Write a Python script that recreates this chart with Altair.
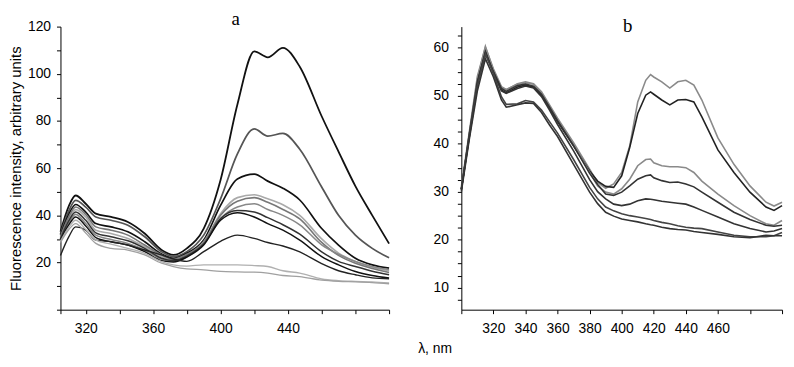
import altair as alt
import pandas as pd

# ---------------- Panel a ----------------
A_NM = [305, 310, 314, 320, 326, 335, 345, 355, 365, 372, 380, 390, 400, 410,
        420, 428, 437, 447, 460, 470, 480, 490, 500]
A1 = [33, 44, 48.4, 44.9, 40.7, 39.3, 37.2, 32.3, 25.3, 23.2, 26, 34.4, 55, 87,
      109.5, 107, 111, 103, 82, 67, 52.4, 40, 28]
A2 = [32, 42, 46.3, 43.5, 39.3, 37.9, 35.8, 30.9, 24.6, 22.5, 24.6, 31.6, 47, 66,
      76.6, 73.6, 74.7, 68, 52, 40, 31.6, 26, 22]
A3 = [31.5, 40.5, 44.6, 41.4, 36.5, 35.1, 33, 28.8, 23.6, 21.8, 23.9, 29.5, 44.2, 55.4,
      57.5, 54.5, 51.5, 46.5, 34.4, 27.4, 21.8, 19, 17.6]
A4 = [30.5, 38.5, 42.4, 39.3, 33.7, 32.3, 30.2, 26.7, 22.5, 21, 23, 28.8, 40.7, 47.5,
      48.7, 47, 44.5, 40, 30, 24, 20.4, 18, 16.5]
A5 = [31, 39.5, 43.5, 40.4, 35.1, 33.7, 31.6, 27.4, 23.2, 21.4, 23.5, 28.5, 40, 46,
      47.5, 45.5, 42.5, 38.5, 28.5, 23, 19.7, 17.5, 15.8]
A6 = [30, 37, 40.4, 36.5, 31.6, 29.8, 28.1, 25.3, 21.4, 20.5, 22.5, 28, 38.6, 43.5,
      44.9, 42.5, 40, 36, 27.5, 23.5, 20.4, 18.3, 17]
A7 = [30, 37.8, 41.4, 37.9, 32.6, 30.9, 29.2, 26, 21.8, 20.8, 22.8, 27.8, 38.6, 42,
      41.4, 39, 36, 32, 24.5, 20.5, 18.3, 16.3, 14.8]
A8 = [29.5, 36, 39.3, 35.5, 30.6, 28.8, 27.4, 24.6, 20.8, 20.2, 22.3, 27.4, 37.9, 41.1,
      39.3, 36.5, 33.7, 29.5, 22.5, 19, 16.2, 14.5, 13.4]
A9 = [23, 31, 35.1, 33.7, 29.5, 28.8, 27.4, 25.3, 23.2, 21.5, 20.5, 24.6, 29, 31.6,
      30.2, 28.5, 27, 24.5, 19.5, 16.5, 14.8, 13.5, 13.1]
A10 = [29, 35, 37.9, 34, 29.5, 27.8, 26, 23.9, 20.4, 19, 18.5, 19, 19, 19,
       18.7, 18.3, 16.5, 15.5, 13, 12.3, 12, 11.8, 11.3]
A11 = [28.5, 34, 36.5, 32.5, 28.1, 26, 25.3, 23.2, 19.7, 18.3, 17.3, 16.9, 16.2, 16,
       15.9, 15.5, 14.5, 14, 12.5, 12, 11.8, 11.5, 11]
A_CURVES = [A1, A2, A3, A4, A5, A6, A7, A8, A9, A10, A11]
A_COLORS = ["#111111", "#555555", "#111111", "#aaaaaa", "#777777", "#888888",
            "#333333", "#111111", "#222222", "#b0b0b0", "#a0a0a0"]
A_WIDTHS = [1.8, 1.3, 1.7, 1.2, 1.2, 1.2, 1.3, 2.2, 1.6, 1.2, 1.2]

A_XTICKS = [305, 320, 340, 360, 380, 400, 420, 440, 460, 480, 500]
A_XLABELS = [320, 360, 400, 440]
A_YTICKS = list(range(0, 121, 10))
A_YLABELS = [20, 40, 60, 80, 100, 120]

# ---------------- Panel b ----------------
B_NM = [300, 305, 310, 315, 320, 325, 328, 335, 340, 345, 350, 355, 360, 370, 380, 385,
        390, 395, 400, 405, 410, 415, 418, 420, 425, 430, 435, 440, 445, 450, 460, 470,
        480, 490, 495, 500]
B1 = [30.5, 42, 53.5, 60.3, 55.3, 51.7, 51.2, 52.5, 52.9, 52.5, 50.8, 48.1, 45.3, 40.2, 34.7, 31.9,
      30.7, 31.6, 34, 39.5, 48.7, 53.2, 54.4, 53.9, 52.9, 51.6, 52.9, 53.2, 52.2, 49.1, 41.2, 35.7,
      31.2, 27.8, 27, 27.8]
B2 = [30.5, 42, 53, 59.4, 54.9, 51.2, 50.6, 51.8, 52.2, 51.8, 50.1, 47.4, 44.6, 39.5, 34.3, 32.2,
      31.1, 30.9, 33.3, 39.2, 46.3, 50.1, 50.8, 50.3, 49.1, 48.1, 49.1, 49.2, 48.7, 45.6, 38.7, 34,
      29.9, 26.8, 26.1, 27.1]
B3 = [31, 42.5, 54, 60.1, 55.6, 51.9, 51.3, 52.4, 52.7, 52.4, 50.5, 47.7, 45, 39.8, 34, 31.2,
      29.9, 29.5, 30.6, 32.6, 35.4, 36.7, 36.8, 36, 35.4, 35.2, 35.2, 35, 34, 32.2, 29.5, 27.1,
      25, 23.3, 23, 24]
B4 = [30.5, 42, 53, 58.9, 55, 51.5, 50.9, 52.1, 52.4, 52, 50.3, 47.6, 44.8, 39.6, 33.8, 31.5,
      29.5, 29.2, 29.9, 31.2, 32.6, 33.3, 33.5, 32.9, 32.3, 31.9, 32, 31.6, 31, 29.9, 27.8, 25.7,
      24.2, 23, 22.8, 23]
B5 = [30.5, 41.5, 52.5, 59.2, 54.8, 51, 50.5, 51.5, 52, 51.6, 49.8, 47, 44, 38.5, 32.5, 30,
      28.5, 27.4, 27.1, 27.4, 28.1, 28.5, 28.4, 28.3, 28, 27.8, 27.6, 27.4, 26.8, 26.1, 24.7, 23.3,
      22.3, 21.6, 21.8, 22.3]
B6 = [30.5, 41.5, 52, 58.7, 54.6, 49.8, 48.2, 48.3, 49, 48.7, 47, 44.6, 42.2, 36.7, 30.9, 28.5,
      26.8, 26, 25.4, 25, 24.7, 24.4, 24.2, 24, 23.6, 23.3, 22.9, 22.6, 22.4, 22.3, 21.6, 20.9,
      20.6, 20.6, 20.8, 21.5]
B7 = [30, 41, 51, 57.7, 53.9, 49.1, 47.6, 48.1, 48.5, 48.4, 46.5, 43.9, 41.5, 35.7, 29.9, 27.5,
      25.7, 24.9, 24.3, 24, 23.7, 23.3, 23.1, 23, 22.6, 22.3, 22.1, 22, 21.7, 21.5, 21.1, 20.6,
      20.4, 20.9, 20.8, 20.8]
B_CURVES = [B1, B2, B3, B4, B5, B6, B7]
B_COLORS = ["#8a8a8a", "#222222", "#8a8a8a", "#333333", "#333333", "#444444", "#333333"]
B_WIDTHS = [1.6, 1.6, 1.6, 1.6, 1.5, 1.5, 1.5]

B_XTICKS = [300, 320, 340, 360, 380, 400, 420, 440, 460, 480, 500]
B_XLABELS = [320, 340, 360, 380, 400, 420, 440, 460]
B_YTICKS = [5 + 2.5 * i for i in range(24)]
B_YLABELS = [10, 20, 30, 40, 50, 60]

FONT = "Liberation Sans"


def frame(nm, curves, prefix):
    rows = []
    for i, c in enumerate(curves):
        for x, v in zip(nm, c):
            rows.append({"nm": x, "v": v, "curve": f"{prefix}{i+1:02d}"})
    return pd.DataFrame(rows)


def label_expr(vals):
    return "indexof([" + ",".join(str(v) for v in vals) + "], datum.value) >= 0 ? datum.label : ''"


def axis(values, labels, **kw):
    base = dict(values=values, labelExpr=label_expr(labels), grid=False, tickSize=4,
                tickColor="black", domainColor="black", labelColor="black",
                labelFont=FONT, labelFontSize=14, labelOverlap=False, labelFlush=False,
                titleFont=FONT, titleFontWeight="normal", titleColor="black")
    base.update(kw)
    return alt.Axis(**base)


dfa = frame(A_NM, A_CURVES, "a")
dfb = frame(B_NM, B_CURVES, "b")
a_names = sorted(dfa["curve"].unique())
b_names = sorted(dfb["curve"].unique())

TITLE_KW = dict(font="Liberation Serif", fontSize=19, fontWeight="normal",
                anchor="middle", offset=-9, color="black")

pa = alt.Chart(dfa).mark_line(interpolate="monotone").encode(
    x=alt.X("nm:Q", scale=alt.Scale(domain=[305, 500], nice=False, zero=False),
            axis=axis(A_XTICKS, A_XLABELS, title=None, labelPadding=8)),
    y=alt.Y("v:Q", scale=alt.Scale(domain=[0, 120], nice=False),
            axis=axis(A_YTICKS, A_YLABELS, title="Fluorescence intensity, arbitrary units",
                      titleFontSize=15, titlePadding=4, labelPadding=6)),
    color=alt.Color("curve:N", scale=alt.Scale(domain=a_names, range=A_COLORS), legend=None),
    strokeWidth=alt.StrokeWidth("curve:N", scale=alt.Scale(domain=a_names, range=A_WIDTHS), legend=None),
    detail="curve:N",
).properties(
    width=332, height=286,
    title=alt.TitleParams("a", dx=11, **TITLE_KW),
)

pb = alt.Chart(dfb).mark_line(interpolate="linear").encode(
    x=alt.X("nm:Q", scale=alt.Scale(domain=[300, 500], nice=False, zero=False),
            axis=axis(B_XTICKS, B_XLABELS, title="λ, nm", labelPadding=8, titleFontSize=14,
                      titleX=-27, titleY=43, titleBaseline="alphabetic", titleAlign="center")),
    y=alt.Y("v:Q", scale=alt.Scale(domain=[5.4, 64.4], nice=False, zero=False),
            axis=axis(B_YTICKS, B_YLABELS, title=None, labelPadding=9)),
    color=alt.Color("curve:N", scale=alt.Scale(domain=b_names, range=B_COLORS), legend=None),
    strokeWidth=alt.StrokeWidth("curve:N", scale=alt.Scale(domain=b_names, range=B_WIDTHS), legend=None),
    detail="curve:N",
).properties(
    width=324, height=286,
    title=alt.TitleParams("b", dx=6, **TITLE_KW),
)

chart = alt.hconcat(pa, pb, spacing=73, bounds="flush").resolve_scale(
    color="independent", strokeWidth="independent"
).properties(
    padding={"left": 0, "top": 0, "right": 0, "bottom": 0},
    background="white",
).configure_view(stroke=None)

chart.save("out.html", embed_options={"renderer": "svg", "actions": False})
